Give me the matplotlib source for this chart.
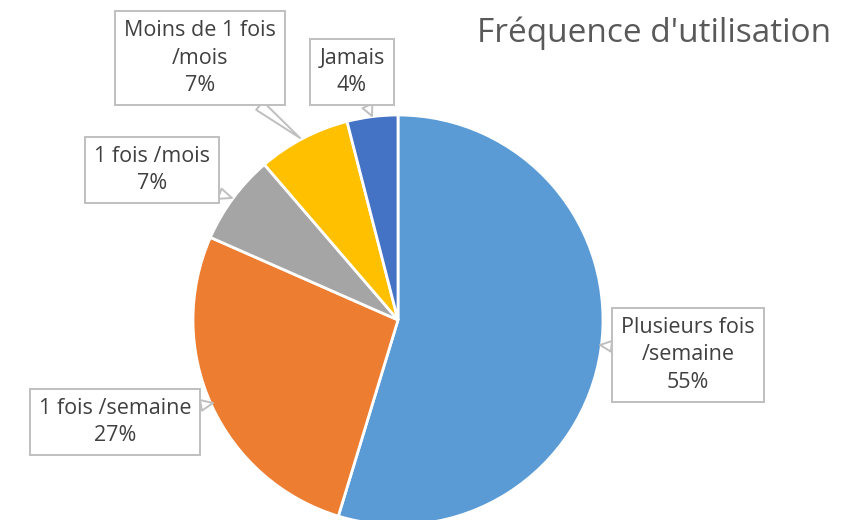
import matplotlib
matplotlib.use('Agg')
import matplotlib.pyplot as plt

plt.rcParams['font.family'] = ['Open Sans', 'DejaVu Sans']

# data (clockwise from 12 o'clock)
categories = ['Plusieurs fois\n/semaine', '1 fois /semaine', '1 fois /mois',
              'Moins de 1 fois\n/mois', 'Jamais']
shares = [54.7, 26.9, 7.1, 7.3, 4.0]
colors = ['#5B9BD5', '#ED7D31', '#A5A5A5', '#FFC000', '#4472C4']
title = "Fréquence d'utilisation"

W, H = 845, 520
fig = plt.figure(figsize=(W / 100, H / 100), dpi=100)
ax = fig.add_axes([0, 0, 1, 1])

cx, cy, r = 398, H - 320, 205
wedges, _ = ax.pie(shares, colors=colors, startangle=90, counterclock=False,
                   center=(cx, cy), radius=r, frame=True,
                   wedgeprops=dict(edgecolor='white', linewidth=2))
ax.set_xlim(0, W)
ax.set_ylim(0, H)
ax.set_aspect('equal')
ax.axis('off')

# label box centres and pointer tips, in pixel coords (y down)
label_pos = [(688, 355), (115, 422), (152, 170), (200, 58), (352, 72)]
tips = [(600, 345), (213, 403), (232, 198), (300, 138), (372, 116)]

for cat, v, (lx, ly), (tx, ty) in zip(categories, shares, label_pos, tips):
    ax.annotate('{}\n{:.0f}%'.format(cat, v), xy=(tx, H - ty), xytext=(lx, H - ly),
                ha='center', va='center', fontsize=15.5, color='#404040',
                linespacing=1.4,
                bbox=dict(boxstyle='square,pad=0.42', fc='white', ec='#bfbfbf', lw=1.4),
                arrowprops=dict(arrowstyle='wedge,tail_width=0.5,shrink_factor=0.5',
                                fc='white', ec='#bfbfbf', lw=1.4, shrinkA=0, shrinkB=0))

ax.text(654, H - 33, title, ha='center', va='center', fontsize=24, color='#595959')

fig.savefig('out.png', dpi=100)
